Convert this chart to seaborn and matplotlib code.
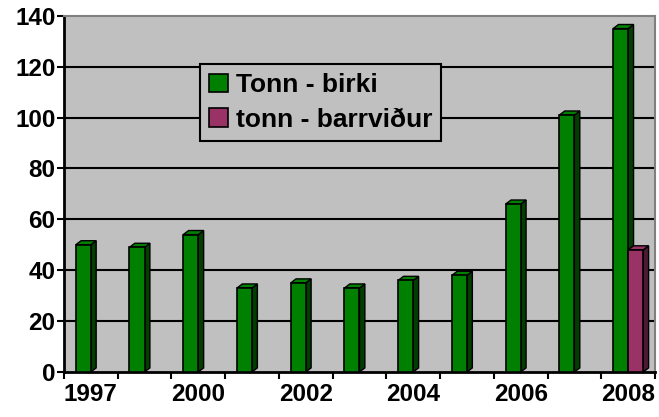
import numpy as np
import pandas as pd
import matplotlib
matplotlib.use("Agg")
import matplotlib.pyplot as plt
from matplotlib.patches import Polygon
from matplotlib.ticker import FixedLocator, NullFormatter
import seaborn as sns

YEARS = ["1997", "1999", "2000", "2001", "2002", "2003",
         "2004", "2005", "2006", "2007", "2008"]
SHOWN_LABELS = ["1997", "", "2000", "", "2002", "", "2004", "", "2006", "", "2008"]
BIRKI = [50, 49, 54, 33, 35, 33, 36, 38, 66, 101, 135]
BARRVIDUR = [np.nan] * 10 + [48]
SERIES = ["Tonn - birki", "tonn - barrviður"]
COLORS = ["#008000", "#993366"]
SIDE_COLORS = ["#003f00", "#4d1a33"]

df = pd.DataFrame({
    "year": YEARS * 2,
    "value": BIRKI + BARRVIDUR,
    "series": [SERIES[0]] * len(YEARS) + [SERIES[1]] * len(YEARS),
})

sns.set_style("white")
plt.rcParams["font.family"] = ["Liberation Sans", "DejaVu Sans"]
plt.rcParams["font.weight"] = "bold"
plt.rcParams["text.color"] = "black"
plt.rcParams["xtick.color"] = "black"
plt.rcParams["ytick.color"] = "black"

fig = plt.figure(figsize=(6.59, 4.17), dpi=100)
ax = fig.add_axes([0.097, 0.108, 0.897, 0.854])
ax.set_facecolor("#c0c0c0")

sns.barplot(data=df, x="year", y="value", hue="series", order=YEARS,
            hue_order=SERIES, palette=COLORS, saturation=1, width=0.56,
            dodge=True, edgecolor="black", linewidth=1.2, ax=ax, zorder=3)

# fake 3d depth on each bar
dx, dy = 0.1, 1.6
for i, container in enumerate(ax.containers):
    for bar in container:
        h = bar.get_height()
        if not np.isfinite(h) or h == 0:
            continue
        x0 = bar.get_x()
        x1 = x0 + bar.get_width()
        side = Polygon([(x1, 0), (x1 + dx, dy), (x1 + dx, h + dy), (x1, h)],
                       closed=True, facecolor=SIDE_COLORS[i],
                       edgecolor="black", linewidth=1.0, zorder=2.9)
        top = Polygon([(x0, h), (x0 + dx, h + dy), (x1 + dx, h + dy), (x1, h)],
                      closed=True, facecolor=COLORS[i],
                      edgecolor="black", linewidth=1.0, zorder=2.9)
        ax.add_patch(side)
        ax.add_patch(top)

ax.set_xlim(-0.5, len(YEARS) - 0.5)
ax.set_ylim(0, 140)
ax.set_yticks(np.arange(0, 141, 20))
for y in range(20, 140, 20):
    ax.axhline(y, color="black", linewidth=1.5, zorder=1)

# ticks at category boundaries, labels at centres
ax.xaxis.set_major_locator(FixedLocator(np.arange(-0.5, len(YEARS), 1.0)))
ax.xaxis.set_major_formatter(NullFormatter())
ax.xaxis.set_minor_locator(FixedLocator(np.arange(len(YEARS))))
ax.set_xticklabels(SHOWN_LABELS, minor=True)
ax.tick_params(axis="x", which="major", direction="out", length=5, width=1.5,
               color="black", bottom=True)
ax.tick_params(axis="x", which="minor", length=0, pad=8, labelsize=17.5)
ax.tick_params(axis="y", direction="out", length=5, width=1.5, color="black",
               left=True, labelsize=17.5, pad=1)
for lbl in ax.get_xticklabels(minor=True) + ax.get_yticklabels():
    lbl.set_fontweight("bold")
    lbl.set_color("black")

ax.set_xlabel("")
ax.set_ylabel("")

for s in ["left", "bottom"]:
    ax.spines[s].set_color("black")
    ax.spines[s].set_linewidth(2)
for s in ["top", "right"]:
    ax.spines[s].set_color("#808080")
    ax.spines[s].set_linewidth(1.5)

leg = ax.legend(loc="upper left", bbox_to_anchor=(0.23, 0.865), frameon=True,
                fancybox=False, facecolor="#c0c0c0", edgecolor="black",
                prop={"size": 19, "weight": "bold"}, handlelength=0.7,
                handleheight=0.7, handletextpad=0.3, borderpad=0.35,
                labelspacing=0.4, borderaxespad=0)
leg.get_frame().set_linewidth(1.5)
leg.get_frame().set_alpha(1)
leg.set_zorder(5)
for t in leg.get_texts():
    t.set_color("black")

fig.savefig("out.png", dpi=100, facecolor="white")
